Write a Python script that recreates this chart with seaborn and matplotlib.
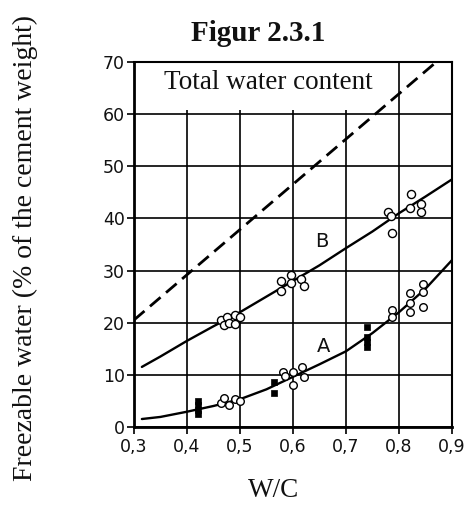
import matplotlib
matplotlib.use("Agg")
import matplotlib.pyplot as plt
import seaborn as sns
import pandas as pd
from matplotlib.patches import Rectangle

# ---------------- data ----------------
x_ticks = [0.3, 0.4, 0.5, 0.6, 0.7, 0.8, 0.9]
x_tick_labels = ["0,3", "0,4", "0,5", "0,6", "0,7", "0,8", "0,9"]
y_ticks = [0, 10, 20, 30, 40, 50, 60, 70]

# total water content (dashed line)
total_wc = [0.30, 0.87]
total_val = [20.5, 70.0]

# curve B
b_wc = [0.315, 0.35, 0.40, 0.45, 0.50, 0.55, 0.60, 0.65, 0.70, 0.75, 0.80, 0.85, 0.90]
b_val = [11.5, 13.5, 16.5, 19.3, 22.0, 25.0, 28.0, 31.0, 34.3, 37.5, 41.0, 44.2, 47.5]

# curve A
a_wc = [0.315, 0.35, 0.40, 0.45, 0.50, 0.55, 0.60, 0.65, 0.70, 0.75, 0.80, 0.85, 0.90]
a_val = [1.5, 1.9, 2.9, 4.0, 5.3, 7.2, 9.6, 12.0, 14.5, 18.0, 22.0, 26.5, 32.0]

# measured points, B (open circles)
b_pts_wc = [0.465, 0.47, 0.475, 0.48, 0.49, 0.49, 0.50,
            0.578, 0.578, 0.597, 0.597, 0.616, 0.62,
            0.78, 0.785, 0.787, 0.822, 0.82, 0.842, 0.842]
b_pts_val = [20.5, 19.5, 21.0, 20.0, 21.5, 19.8, 21.0,
             27.9, 26.0, 29.2, 27.6, 28.3, 27.0,
             41.3, 40.4, 37.3, 44.6, 42.1, 42.7, 41.2]

# measured points, A (open)
a_open_wc = [0.465, 0.47, 0.48, 0.49, 0.50,
             0.582, 0.585, 0.60, 0.60, 0.618, 0.62,
             0.787, 0.787, 0.82, 0.82, 0.82, 0.845, 0.845, 0.845]
a_open_val = [4.5, 5.5, 4.2, 5.3, 5.0,
              10.5, 9.8, 10.6, 8.0, 11.5, 9.6,
              22.5, 21.0, 25.7, 23.8, 22.1, 27.5, 25.8, 23.0]

# measured points, A (filled squares)
a_fill_wc = [0.42, 0.42, 0.42, 0.42, 0.565, 0.565, 0.74, 0.74, 0.74, 0.74]
a_fill_val = [2.5, 3.3, 4.1, 4.9, 8.7, 6.4, 19.2, 17.3, 16.3, 15.4]

# ---------------- figure ----------------
sns.set_theme(style="white", rc={
    "axes.edgecolor": "black",
    "xtick.color": "#111111",
    "ytick.color": "#111111",
})
plt.rcParams["font.family"] = ["DejaVu Sans"]

fig = plt.figure(figsize=(4.65, 5.18), dpi=100)
ax = fig.add_axes([0.288, 0.176, 0.684, 0.704])

df_total = pd.DataFrame({"wc": total_wc, "val": total_val})
df_b = pd.DataFrame({"wc": b_wc, "val": b_val})
df_a = pd.DataFrame({"wc": a_wc, "val": a_val})

sns.lineplot(data=df_total, x="wc", y="val", ax=ax, color="black", lw=2.0,
             zorder=4).lines[-1].set_dashes([5, 2.6])
sns.lineplot(data=df_b, x="wc", y="val", ax=ax, color="black", lw=1.7, zorder=4)
sns.lineplot(data=df_a, x="wc", y="val", ax=ax, color="black", lw=1.7, zorder=4)

sns.scatterplot(x=b_pts_wc, y=b_pts_val, ax=ax, marker="o", s=34,
                facecolor="white", edgecolor="black", linewidth=1.0, zorder=5)
sns.scatterplot(x=a_open_wc, y=a_open_val, ax=ax, marker="o", s=30,
                facecolor="white", edgecolor="black", linewidth=1.0, zorder=5)
sns.scatterplot(x=a_fill_wc, y=a_fill_val, ax=ax, marker="s", s=16,
                color="black", edgecolor="black", linewidth=0.5, zorder=5)

ax.set_xlim(0.3, 0.9)
ax.set_ylim(0, 70)
ax.set_xticks(x_ticks)
ax.set_xticklabels(x_tick_labels)
ax.set_yticks(y_ticks)
ax.grid(True, color="black", lw=1.2, zorder=1)
ax.set_axisbelow(True)

# white label panel covering the grid at the top
ax.add_patch(Rectangle((0.3, 60.8), 0.478, 9.2, facecolor="white",
                       edgecolor="none", zorder=2))
ax.text(0.356, 66.0, "Total water content", family="Liberation Serif",
        fontsize=19.5, va="center", ha="left", color="#111111", zorder=6)
ax.text(0.655, 35.5, "B", fontsize=14, ha="center", va="center", color="#111111")
ax.text(0.657, 15.5, "A", fontsize=14, ha="center", va="center", color="#111111")

for side in ["left", "bottom"]:
    ax.spines[side].set_linewidth(2.0)
for side in ["top", "right"]:
    ax.spines[side].set_linewidth(1.5)
for side in ax.spines:
    ax.spines[side].set_color("black")

ax.tick_params(axis="both", which="major", direction="out", length=5, width=1.3,
               labelsize=12.5, pad=1.5, bottom=True, left=True)
ax.tick_params(axis="x", pad=3)
ax.set_xlabel("")
ax.set_ylabel("")

fig.text(0.055, 0.522, "Freezable water (% of the cement weight)",
         rotation=90, ha="center", va="center", family="Liberation Serif",
         fontsize=20, color="#111111")
fig.text(0.589, 0.054, "W/C", ha="center", va="center",
         family="Liberation Serif", fontsize=19.5, color="#111111")
fig.text(0.556, 0.936, "Figur 2.3.1", ha="center", va="center",
         family="Liberation Serif", fontweight="bold", fontsize=21, color="#111111")

fig.savefig("out.png", dpi=100)
